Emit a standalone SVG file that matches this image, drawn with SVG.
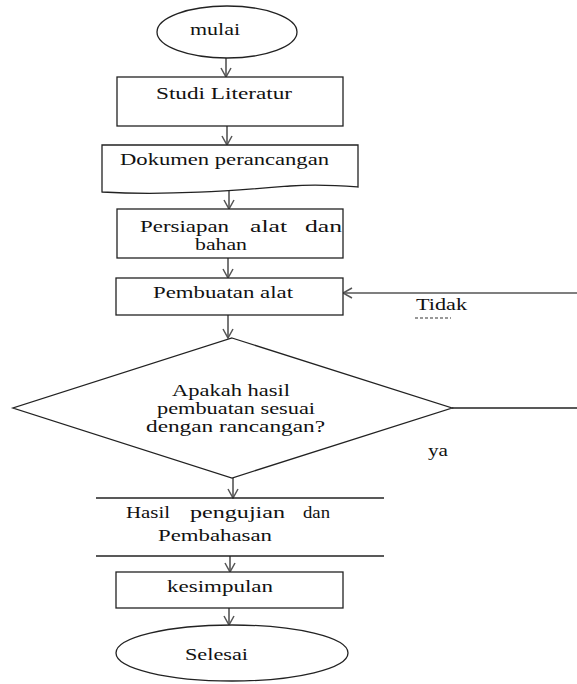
<svg xmlns="http://www.w3.org/2000/svg" width="577" height="684" viewBox="0 0 577 684">
<defs>
<style>
.shape{fill:#fff;stroke:#222;stroke-width:1.3}
.conn{fill:none;stroke:#555;stroke-width:1.6}
text{font-family:'Liberation Serif','Times New Roman',Times,serif;font-size:16px;fill:#111}
</style>
<marker id="arr" viewBox="0 0 12 12" refX="11" refY="6" markerWidth="12" markerHeight="12" markerUnits="userSpaceOnUse" orient="auto">
<path d="M2,1 L11,6 L2,11" fill="none" stroke="#555" stroke-width="1.5"/>
</marker>
</defs>
<rect width="577" height="684" fill="#fff"/>
<g id="connectors" font-family="Liberation Serif, serif">
<line class="conn" x1="226" y1="58" x2="226" y2="77" marker-end="url(#arr)"/>
<line class="conn" x1="227" y1="126" x2="227" y2="145" marker-end="url(#arr)"/>
<line class="conn" x1="229" y1="189" x2="229" y2="209" marker-end="url(#arr)"/>
<line class="conn" x1="228" y1="258" x2="228" y2="278" marker-end="url(#arr)"/>
<line class="conn" x1="228" y1="315" x2="228" y2="338" marker-end="url(#arr)"/>
<line class="conn" x1="233" y1="478" x2="233" y2="498" marker-end="url(#arr)"/>
<line class="conn" x1="230" y1="556" x2="230" y2="572" marker-end="url(#arr)"/>
<line class="conn" x1="229" y1="608" x2="229" y2="625" marker-end="url(#arr)"/>
<line class="conn" x1="577" y1="293" x2="343" y2="293" marker-end="url(#arr)"/>
<line x1="452" y1="408" x2="577" y2="408" stroke="#222" stroke-width="1.3"/>
<text x="416" y="310" textLength="51" lengthAdjust="spacingAndGlyphs">Tidak</text>
<line x1="415" y1="318" x2="451" y2="318" stroke="#333" stroke-width="1.2" stroke-dasharray="3,2"/>
<text x="428" y="456" textLength="20" lengthAdjust="spacingAndGlyphs">ya</text>
</g>
<g id="mulai">
<ellipse class="shape" cx="227" cy="32" rx="70" ry="26"/>
<text x="190" y="35" textLength="50" lengthAdjust="spacingAndGlyphs">mulai</text>
</g>
<g id="studi">
<rect class="shape" x="117" y="77" width="226" height="49"/>
<text x="156" y="99" textLength="136" lengthAdjust="spacingAndGlyphs">Studi Literatur</text>
</g>
<g id="dokumen">
<path class="shape" d="M102,145 H358 V187 C345,186 320,184 290,186 C240,190 170,196 102,192 Z"/>
<text x="120" y="165" textLength="209" lengthAdjust="spacingAndGlyphs">Dokumen perancangan</text>
</g>
<g id="persiapan">
<rect class="shape" x="117" y="209" width="226" height="49"/>
<text y="232"><tspan x="140" textLength="89" lengthAdjust="spacingAndGlyphs">Persiapan</tspan><tspan x="250" textLength="37" lengthAdjust="spacingAndGlyphs">alat</tspan><tspan x="305" textLength="37" lengthAdjust="spacingAndGlyphs">dan</tspan></text>
<text x="195" y="250" textLength="52" lengthAdjust="spacingAndGlyphs">bahan</text>
</g>
<g id="pembuatan">
<rect class="shape" x="116" y="278" width="227" height="37"/>
<text x="153" y="298" textLength="140" lengthAdjust="spacingAndGlyphs">Pembuatan alat</text>
</g>
<g id="keputusan">
<polygon class="shape" points="232,338 452,408 232,478 13,408"/>
<text x="172" y="396" textLength="118" lengthAdjust="spacingAndGlyphs">Apakah hasil</text>
<text x="157" y="414" textLength="158" lengthAdjust="spacingAndGlyphs">pembuatan sesuai</text>
<text x="146" y="432" textLength="179" lengthAdjust="spacingAndGlyphs">dengan rancangan?</text>
</g>
<g id="hasil">
<line x1="96" y1="498" x2="384" y2="498" stroke="#222" stroke-width="1.3"/>
<line x1="96" y1="556" x2="384" y2="556" stroke="#222" stroke-width="1.3"/>
<text y="518"><tspan x="126" textLength="44" lengthAdjust="spacingAndGlyphs">Hasil</tspan><tspan x="190" textLength="95" lengthAdjust="spacingAndGlyphs">pengujian</tspan><tspan x="303" textLength="27" lengthAdjust="spacingAndGlyphs">dan</tspan></text>
<text x="158" y="541" textLength="114" lengthAdjust="spacingAndGlyphs">Pembahasan</text>
</g>
<g id="kesimpulan">
<rect class="shape" x="116" y="572" width="227" height="36"/>
<text x="167" y="592" textLength="106" lengthAdjust="spacingAndGlyphs">kesimpulan</text>
</g>
<g id="selesai">
<ellipse class="shape" cx="232" cy="653" rx="116" ry="28"/>
<text x="185" y="660" textLength="63" lengthAdjust="spacingAndGlyphs">Selesai</text>
</g>
</svg>
